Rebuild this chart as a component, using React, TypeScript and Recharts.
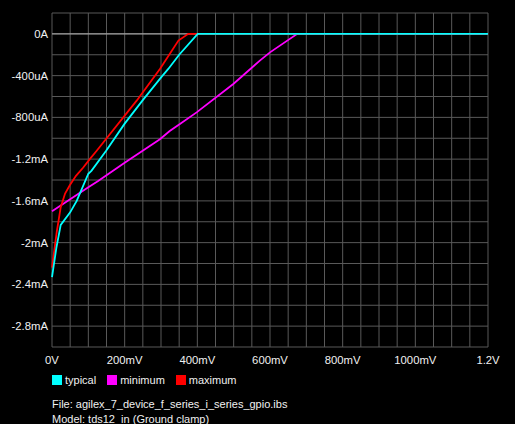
import { CartesianGrid, Line, LineChart, ReferenceLine, XAxis, YAxis } from "recharts";

// voltage in mV, current in uA
const typicalV = [0, 12, 24, 50, 68, 100, 109, 149, 200, 251, 302, 320, 350, 401, 1200];
const typicalI = [-2330, -2050, -1830, -1710, -1600, -1340, -1310, -1120, -860, -630, -410, -336, -200, 0, 0];

const minimumV = [0, 50, 100, 127, 169, 200, 297, 324, 352, 398, 499, 572, 600, 675, 1200];
const minimumI = [-1700, -1585, -1470, -1410, -1310, -1235, -1010, -930, -864, -752, -480, -256, -177, 0, 0];

const maximumV = [0, 13, 24, 36, 49, 66, 86, 104, 123, 233, 297, 348, 375, 1200];
const maximumI = [-2240, -1900, -1660, -1530, -1450, -1360, -1280, -1200, -1120, -640, -336, -64, 0, 0];

const xTicks = [0, 50, 100, 150, 200, 250, 300, 350, 400, 450, 500, 550, 600, 650, 700, 750, 800, 850, 900, 950, 1000, 1050, 1100, 1150, 1200];
const xLabels: Record<number, string> = { 0: "0V", 200: "200mV", 400: "400mV", 600: "600mV", 800: "800mV", 1000: "1000mV", 1200: "1.2V" };

const yTicks = [200, 0, -200, -400, -600, -800, -1000, -1200, -1400, -1600, -1800, -2000, -2200, -2400, -2600, -2800, -3000];
const yLabels: Record<number, string> = { 0: "0A", [-400]: "-400uA", [-800]: "-800uA", [-1200]: "-1.2mA", [-1600]: "-1.6mA", [-2000]: "-2mA", [-2400]: "-2.4mA", [-2800]: "-2.8mA" };

const series = [
  { name: "minimum", color: "#ff00ff", v: minimumV, i: minimumI },
  { name: "maximum", color: "#ff0000", v: maximumV, i: maximumI },
  { name: "typical", color: "#00ffff", v: typicalV, i: typicalI },
];
const legendOrder = ["typical", "minimum", "maximum"];

const FONT = "'Liberation Sans', Arial, sans-serif";

export default function App() {
  const lines = series.map((s) => ({ ...s, data: s.v.map((v, k) => ({ v, i: s.i[k] })) }));

  return (
    <div style={{ position: "absolute", left: 0, top: 0, width: 515, height: 424, background: "#000", fontFamily: FONT }}>
      <LineChart width={515} height={424} margin={{ top: 13, right: 27, left: 0, bottom: 0 }}>
        <CartesianGrid stroke="#595959" strokeWidth={1} />
        <XAxis
          type="number"
          dataKey="v"
          domain={[0, 1200]}
          ticks={xTicks}
          interval={0}
          height={77}
          axisLine={false}
          tickLine={false}
          tickSize={0}
          tickMargin={9}
          tick={{ fill: "#f0f0f0", fontSize: 11.3, fontFamily: FONT }}
          tickFormatter={(v: number) => xLabels[v] ?? ""}
        />
        <YAxis
          type="number"
          domain={[-3000, 200]}
          ticks={yTicks}
          interval={0}
          width={52}
          axisLine={false}
          tickLine={false}
          tickSize={0}
          tickMargin={4}
          tick={{ fill: "#f0f0f0", fontSize: 11.3, fontFamily: FONT }}
          tickFormatter={(v: number) => yLabels[v] ?? ""}
        />
        <ReferenceLine y={0} stroke="#b4b4b4" strokeWidth={1} />
        {lines.map((s) => (
          <Line
            key={s.name}
            data={s.data}
            dataKey="i"
            type="linear"
            stroke={s.color}
            strokeWidth={1.8}
            dot={false}
            isAnimationActive={false}
          />
        ))}
      </LineChart>

      <div style={{ position: "absolute", left: 52, top: 372, display: "flex", alignItems: "center", height: 15, fontSize: 11, color: "#f0f0f0" }}>
        {legendOrder.map((name) => {
          const s = series.find((x) => x.name === name)!;
          return (
            <span key={name} style={{ display: "flex", alignItems: "center", marginRight: 11 }}>
              <span style={{ width: 10, height: 10, background: s.color, marginRight: 3, display: "inline-block" }} />
              {name}
            </span>
          );
        })}
      </div>

      <div style={{ position: "absolute", left: 52, top: 397, fontSize: 11, lineHeight: "14.5px", color: "#f0f0f0" }}>
        <div>File: agilex_7_device_f_series_i_series_gpio.ibs</div>
        <div>Model: tds12_in (Ground clamp)</div>
      </div>
    </div>
  );
}
